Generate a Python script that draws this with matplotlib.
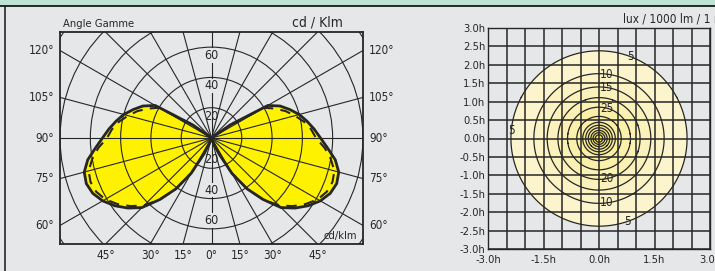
import numpy as np
import matplotlib
matplotlib.use('Agg')
import matplotlib.pyplot as plt
from matplotlib.patches import Circle, Rectangle
from matplotlib.lines import Line2D
from matplotlib.colors import LinearSegmentedColormap

plt.rcParams['font.family'] = ['DejaVu Sans']
plt.rcParams['font.stretch'] = 'condensed'

# polar curve (cd/klm) against gamma angle in degrees
gamma = [0, 10, 20, 25, 30, 35, 40, 45, 50, 55, 60, 65, 70, 75, 80, 85, 90,
         95, 100, 105, 110, 115, 120, 125, 130]
cd_solid = [0, 1, 3, 11, 27, 41, 53, 65, 72, 78, 83, 86.5, 88, 87, 83, 77, 72,
            68, 64, 60, 55, 50, 43, 15, 0]
cd_dashed = [0, 1, 3, 11, 27, 41, 53, 63, 70, 76, 81, 84, 85, 84, 80, 75, 69,
             66, 62, 57, 52, 46, 40, 15, 0]
rings = [20, 40, 60, 80, 100, 120]
ring_labels = [20, 40, 60]
side_angles = [60, 75, 90, 105, 120]
bottom_angles = [45, 30, 15, 0, 15, 30, 45]
bottom_sides = [-1, -1, -1, 0, 1, 1, 1]

# isolux (lux / 1000 lm / 1 m) : level and radius in h
lux_levels = [60, 55, 50, 45, 40, 35, 30, 25, 20, 15, 10, 5]
lux_radius = [0.10, 0.16, 0.22, 0.29, 0.36, 0.44, 0.60, 0.85, 1.11, 1.40, 1.76, 2.38]
lux_label_lvl = [5, 5, 5, 10, 10, 15, 25, 20]
lux_label_ang = [69, 175, -71, 83, -83, 82, 76, -79]
y_ticks = [3.0, 2.5, 2.0, 1.5, 1.0, 0.5, 0.0, -0.5, -1.0, -1.5, -2.0, -2.5, -3.0]
x_ticks = [-3.0, -1.5, 0.0, 1.5, 3.0]

bg = '#e6e7e9'
ink = '#262626'
fs = 8
fig = plt.figure(figsize=(7.15, 2.71), dpi=100, facecolor=bg)

# header strip and panel frame
fig.patches.append(Rectangle((0, 1 - 5.5 / 271), 1, 5.5 / 271, transform=fig.transFigure,
                             facecolor='#bde3d4', edgecolor='none'))
fig.lines.append(Line2D([0, 1], [1 - 6 / 271, 1 - 6 / 271], transform=fig.transFigure,
                        color=ink, lw=1.4))
fig.lines.append(Line2D([5 / 715, 5 / 715], [0, 1 - 6 / 271], transform=fig.transFigure,
                        color=ink, lw=1.2))

# ---------------- polar diagram ----------------
ax = fig.add_axes([60 / 715, 27 / 271, 303 / 715, 212 / 271])
ax.set_facecolor(bg)
ax.set_xlim(-100, 100)
ax.set_ylim(-70, 70)
ax.set_aspect('equal', adjustable='box')
ax.set_xticks([])
ax.set_yticks([])
for s in ax.spines.values():
    s.set_color(ink)
    s.set_linewidth(1.3)

g = np.radians(gamma)
for vals, ls in [(cd_solid, '-'), (cd_dashed, '--')]:
    v = np.array(vals)
    for side in (-1, 1):
        x = side * v * np.sin(g)
        y = -v * np.cos(g)
        if ls == '-':
            ax.fill(x, y, color='#fff200', zorder=1, lw=0)
            ax.plot(x, y, color=ink, lw=2.0, zorder=4, solid_joinstyle='round')
        else:
            ax.plot(x, y, color=ink, lw=1.5, ls=(0, (5, 3.5)), zorder=3)

for r in rings:
    ax.add_patch(Circle((0, 0), r, fill=False, color=ink, lw=0.8, zorder=2))
for a in range(0, 360, 15):
    t = np.radians(a)
    ax.plot([0, 200 * np.sin(t)], [0, -200 * np.cos(t)], color=ink, lw=0.8, zorder=2)

for r in ring_labels:
    for sgn in (1, -1):
        ax.text(0, sgn * (r - 5.5), str(r), ha='center', va='center', fontsize=fs + 1,
                color=ink, zorder=5,
                bbox=dict(boxstyle='square,pad=0.05', fc=bg if r > 20 else 'none', ec='none'))

for a in side_angles:
    yv = -100 / np.tan(np.radians(a))
    ax.text(-104, yv, f'{a}°', ha='right', va='center', fontsize=fs + 0.5, color=ink, clip_on=False)
    ax.text(104, yv, f'{a}°', ha='left', va='center', fontsize=fs + 0.5, color=ink, clip_on=False)
for a, sd in zip(bottom_angles, bottom_sides):
    xv = sd * 70 * np.tan(np.radians(a))
    ax.text(xv, -73, f'{a}°', ha='center', va='top', fontsize=fs + 0.5, color=ink, clip_on=False)

ax.text(0.01, 1.015, 'Angle Gamme', transform=ax.transAxes, ha='left', va='bottom',
        fontsize=fs, color=ink)
ax.text(0.935, 1.01, 'cd / Klm', transform=ax.transAxes, ha='right', va='bottom',
        fontsize=10, color=ink)
ax.text(96, -65, 'cd/klm', ha='right', va='center', fontsize=fs, color=ink, zorder=5)

# ---------------- isolux diagram ----------------
ax2 = fig.add_axes([488 / 715, 22 / 271, 222 / 715, 221 / 271])
ax2.set_facecolor(bg)
ax2.set_xlim(-3, 3)
ax2.set_ylim(-3, 3)

xx, yy = np.meshgrid(np.linspace(-3, 3, 601), np.linspace(-3, 3, 601))
rr = np.hypot(xx, yy)
cmap = LinearSegmentedColormap.from_list('lux', ['#f5e35a', '#faef9e', '#fcf4cc'])
band_cols = [cmap(i / (len(lux_radius) - 1)) for i in range(len(lux_radius))]
ax2.contourf(xx, yy, rr, levels=[0] + lux_radius, colors=band_cols, zorder=1)
ax2.contour(xx, yy, rr, levels=lux_radius, colors=ink, linewidths=0.9, zorder=3)

for k in np.arange(-3, 3.01, 0.5):
    ax2.axvline(k, color=ink, lw=1.1, zorder=2)
    ax2.axhline(k, color=ink, lw=1.1, zorder=2)

for lvl, ang in zip(lux_label_lvl, lux_label_ang):
    r = lux_radius[lux_levels.index(lvl)]
    t = np.radians(ang)
    ax2.text(r * np.cos(t), r * np.sin(t), str(lvl), ha='center', va='center',
             fontsize=fs + 0.5, color=ink, zorder=4)

ax2.set_yticks(y_ticks)
ax2.set_yticklabels([f'{v:.1f}h' for v in y_ticks])
ax2.set_xticks(x_ticks)
ax2.set_xticklabels([f'{v:.1f}h' for v in x_ticks])
ax2.tick_params(length=0, labelsize=fs, colors=ink)
ax2.tick_params(axis='y', pad=2)
ax2.tick_params(axis='x', pad=4)
for s in ax2.spines.values():
    s.set_color(ink)
    s.set_linewidth(1.0)
ax2.text(0.607, 1.01, 'lux / 1000 lm / 1 m', transform=ax2.transAxes, ha='left',
         va='bottom', fontsize=fs + 0.5, color=ink, clip_on=False)

fig.savefig('out.png', dpi=100, facecolor=bg)
